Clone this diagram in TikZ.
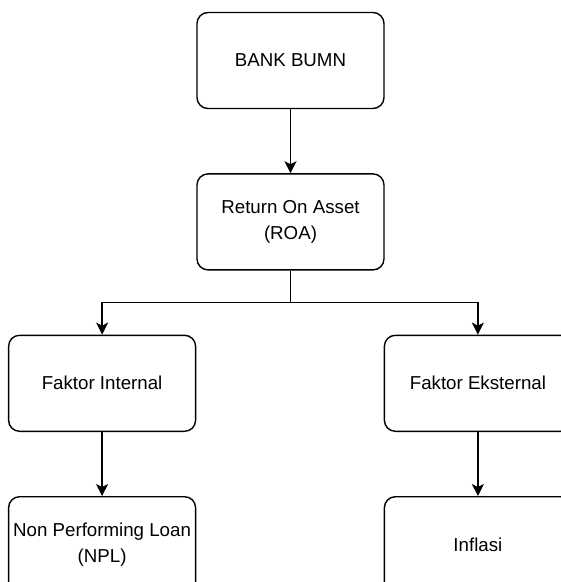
\documentclass[tikz,border=0pt]{standalone}
\usepackage{fontspec}
\setmainfont{Liberation Sans}
\usepackage{tikz}
\usetikzlibrary{arrows.meta,positioning,calc}

\begin{document}
\begin{tikzpicture}[
    x=1pt, y=-1pt,
    node distance=64pt,
    box/.style={rectangle, draw, fill=white, line width=1.4pt, rounded corners=11pt,
        minimum width=187pt, minimum height=96pt, inner sep=0pt, align=center,
        font=\fontsize{18.7}{25.5}\selectfont},
    arrow/.style={-{Stealth[length=12pt,width=12pt,inset=3pt]}, line width=1.4pt}
]
\clip (0,0) rectangle (561,582);

% Nodes
\node[box] (bank) at (290.5,60.5) {BANK BUMN};
\node[box, below=of bank] (roa) {Return On Asset\\(ROA)};
\coordinate[below=32pt of roa] (split);
\node[box, below left=64pt and 0pt of roa] (internal) {Faktor Internal};
\node[box, below right=64pt and -1pt of roa] (external) {Faktor Eksternal};
\node[box, below=of internal] (npl) {Non Performing Loan\\(NPL)};
\node[box, below=of external] (inflasi) {Inflasi};

% Arrows
\draw[arrow] (bank) -- (roa);
\draw[line width=1.4pt] (roa) -- (split);
\draw[arrow] (split) -| (internal);
\draw[arrow] (split) -| (external);
\draw[arrow] (internal) -- (npl);
\draw[arrow] (external) -- (inflasi);

\end{tikzpicture}
\end{document}
